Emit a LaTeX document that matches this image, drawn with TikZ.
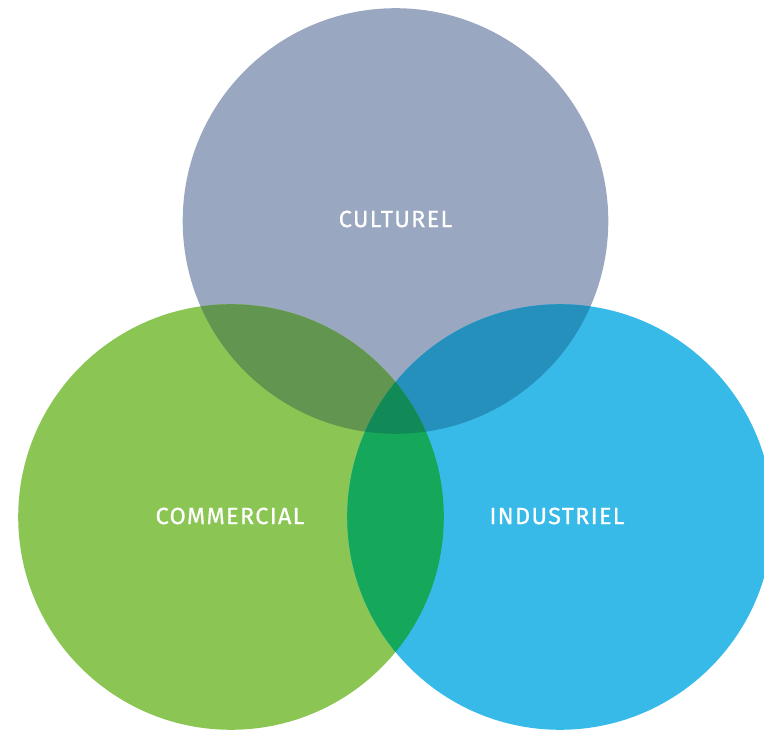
\documentclass[tikz,border=0pt]{standalone}
\usepackage{fontspec}
\setmainfont{Fira Sans}[LetterSpace=5.5, FakeBold=0.6]
\usepackage{tikz}
\definecolor{culturelfill}{HTML}{9AA7C1}
\definecolor{commercialfill}{HTML}{8BC655}
\definecolor{industrielfill}{HTML}{37BAE8}
\definecolor{culcomfill}{HTML}{62954F}
\definecolor{culindfill}{HTML}{2690BD}
\definecolor{comindfill}{HTML}{16A85A}
\definecolor{allfill}{HTML}{128A57}

\begin{document}
\begin{tikzpicture}[
  x=1pt, y=-1pt,
  lbl/.style={text=white, font=\fontsize{23.5}{27}\selectfont, inner sep=0pt}
]
  \useasboundingbox (0,0) rectangle (764,730);
  \def\rad{212.8}

  % circle centres
  \coordinate (cul) at (395.5,221);
  \coordinate (com) at (231,517);
  \coordinate (ind) at (560,517);

  % the three sets
  \fill[culturelfill] (cul) circle (\rad);
  \fill[commercialfill] (com) circle (\rad);
  \fill[industrielfill] (ind) circle (\rad);

  % pairwise overlaps
  \begin{scope}
    \clip (cul) circle (\rad);
    \fill[culcomfill] (com) circle (\rad);
    \fill[culindfill] (ind) circle (\rad);
  \end{scope}
  \begin{scope}
    \clip (com) circle (\rad);
    \fill[comindfill] (ind) circle (\rad);
    \clip (ind) circle (\rad);
    \fill[allfill] (cul) circle (\rad);
  \end{scope}

  % labels
  \node[lbl] (culturel) at (395.5,219) {CULTUREL};
  \node[lbl] (commercial) at (230,516) {COMMERCIAL};
  \node[lbl] (industriel) at (557,516) {INDUSTRIEL};
\end{tikzpicture}
\end{document}
